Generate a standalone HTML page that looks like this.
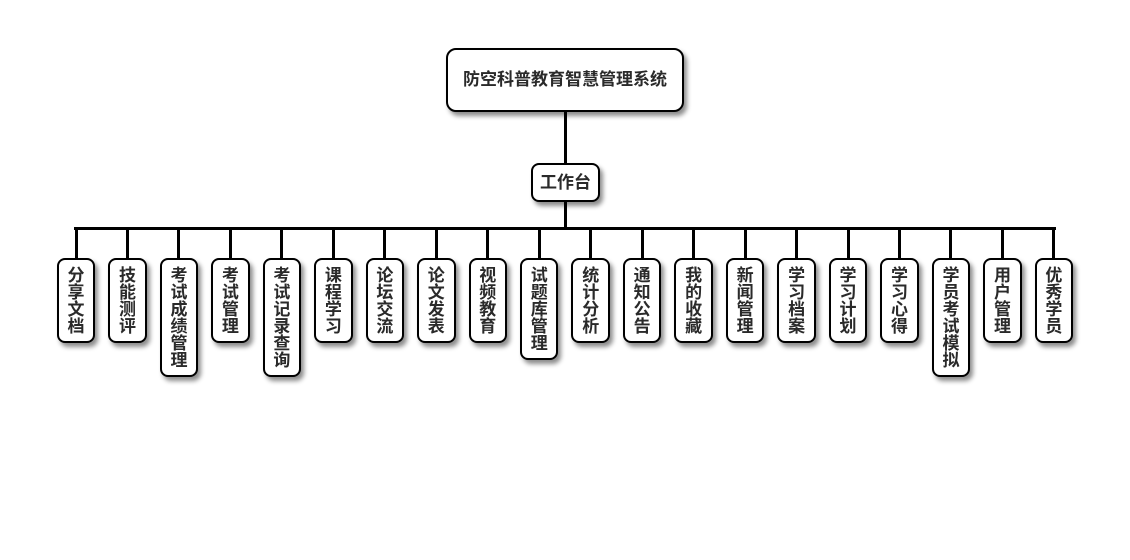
<!DOCTYPE html>
<html><head><meta charset="utf-8">
<style>
html,body{margin:0;padding:0;background:#fff;}
body{width:1130px;height:560px;position:relative;overflow:hidden;font-family:"Liberation Sans","Noto Sans CJK SC",sans-serif;}
.b{position:absolute;box-sizing:border-box;border:2px solid #000;background:#fff;border-radius:8px;box-shadow:3px 4px 5px rgba(0,0,0,0.45);color:#2a2a2a;font-weight:bold;font-size:17px;text-align:center;}
.v{top:258px;width:38.5px;line-height:17px;padding-top:6.5px;}
.l{position:absolute;background:#000;}
.vc{top:228px;width:3px;height:30px;}
</style></head><body>
<div class="l" style="left:563.5px;top:110px;width:3px;height:55px;"></div>
<div class="l" style="left:563.5px;top:200px;width:3px;height:30px;"></div>
<div class="l" style="left:74px;top:227px;width:982px;height:3px;"></div>

<div class="b" style="left:446px;top:48px;width:238px;height:64px;line-height:60px;border-radius:10px;">防空科普教育智慧管理系统</div>
<div class="b" style="left:531px;top:163px;width:69px;height:39px;line-height:35px;">工作台</div>

<div class="l vc" style="left:74.5px"></div>
<div class="l vc" style="left:125.97px"></div>
<div class="l vc" style="left:177.44px"></div>
<div class="l vc" style="left:228.91px"></div>
<div class="l vc" style="left:280.38px"></div>
<div class="l vc" style="left:331.85px"></div>
<div class="l vc" style="left:383.32px"></div>
<div class="l vc" style="left:434.79px"></div>
<div class="l vc" style="left:486.26px"></div>
<div class="l vc" style="left:537.73px"></div>
<div class="l vc" style="left:589.2px"></div>
<div class="l vc" style="left:640.67px"></div>
<div class="l vc" style="left:692.14px"></div>
<div class="l vc" style="left:743.61px"></div>
<div class="l vc" style="left:795.08px"></div>
<div class="l vc" style="left:846.55px"></div>
<div class="l vc" style="left:898.02px"></div>
<div class="l vc" style="left:949.49px"></div>
<div class="l vc" style="left:1000.96px"></div>
<div class="l vc" style="left:1052.43px"></div>

<div class="b v" style="left:56.75px;height:85px;">分<br>享<br>文<br>档</div>
<div class="b v" style="left:108.22px;height:85px;">技<br>能<br>测<br>评</div>
<div class="b v" style="left:159.69px;height:119px;">考<br>试<br>成<br>绩<br>管<br>理</div>
<div class="b v" style="left:211.16px;height:85px;">考<br>试<br>管<br>理</div>
<div class="b v" style="left:262.63px;height:119px;">考<br>试<br>记<br>录<br>查<br>询</div>
<div class="b v" style="left:314.1px;height:85px;">课<br>程<br>学<br>习</div>
<div class="b v" style="left:365.57px;height:85px;">论<br>坛<br>交<br>流</div>
<div class="b v" style="left:417.04px;height:85px;">论<br>文<br>发<br>表</div>
<div class="b v" style="left:468.51px;height:85px;">视<br>频<br>教<br>育</div>
<div class="b v" style="left:519.98px;height:102px;">试<br>题<br>库<br>管<br>理</div>
<div class="b v" style="left:571.45px;height:85px;">统<br>计<br>分<br>析</div>
<div class="b v" style="left:622.92px;height:85px;">通<br>知<br>公<br>告</div>
<div class="b v" style="left:674.39px;height:85px;">我<br>的<br>收<br>藏</div>
<div class="b v" style="left:725.86px;height:85px;">新<br>闻<br>管<br>理</div>
<div class="b v" style="left:777.33px;height:85px;">学<br>习<br>档<br>案</div>
<div class="b v" style="left:828.8px;height:85px;">学<br>习<br>计<br>划</div>
<div class="b v" style="left:880.27px;height:85px;">学<br>习<br>心<br>得</div>
<div class="b v" style="left:931.74px;height:119px;">学<br>员<br>考<br>试<br>模<br>拟</div>
<div class="b v" style="left:983.21px;height:85px;">用<br>户<br>管<br>理</div>
<div class="b v" style="left:1034.68px;height:85px;">优<br>秀<br>学<br>员</div>
</body></html>
